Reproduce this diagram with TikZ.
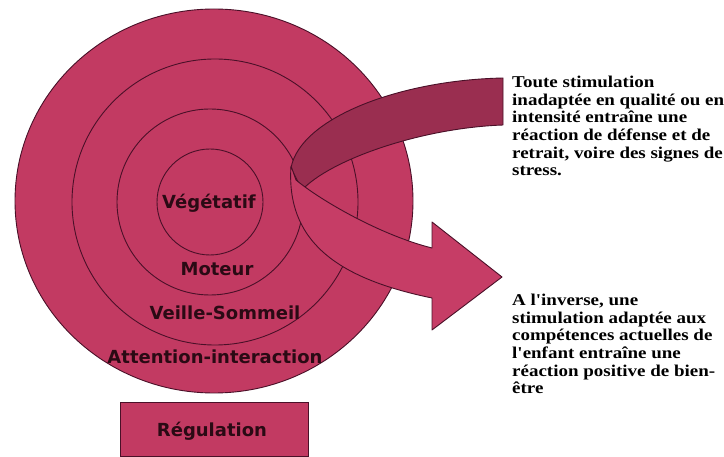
\documentclass[tikz,border=0pt]{standalone}
\usepackage{fontspec}
\setsansfont{DejaVu Sans}
\newfontfamily\rfont{Liberation Serif}[FakeStretch=1.15]
\usetikzlibrary{shapes.geometric}
\definecolor{ringfill}{HTML}{C23A62}
\definecolor{ribdark}{HTML}{9A2E50}
\definecolor{ribfront}{HTML}{C63D66}
\definecolor{edgecol}{HTML}{4A1028}
\definecolor{labcol}{HTML}{2A0A14}
\tikzset{
  ringnode/.style={draw=edgecol, fill=ringfill, line width=0.9pt, inner sep=0pt},
  lab/.style={font=\sffamily\bfseries\fontsize{18}{18}\selectfont, text=labcol, inner sep=0pt},
  ribbon/.style={draw=edgecol, line width=0.9pt, line join=round},
  rtext/.style={font=\rfont\bfseries\fontsize{16.5}{17.6}\selectfont, align=left, anchor=north west, inner sep=0pt, text=black}
}
\begin{document}
\begin{tikzpicture}[x=1pt,y=-1pt]
\useasboundingbox (0,0) rectangle (724,457);
\fill[white] (0,0) rectangle (724,457);
% rings
\node[ringnode, ellipse, minimum width=398pt, minimum height=384pt] (outer) at (214,201) {};
\node[ringnode, circle, minimum size=286pt] (second) at (215,202) {};
\node[ringnode, circle, minimum size=186pt] (third) at (210,202) {};
\node[ringnode, circle, minimum size=106pt] (inner) at (210,202) {};
% ribbon back part
\draw[ribbon, fill=ribdark] (503,78) .. controls (400,80) and (300,118) .. (291,168)
  -- (302,190) .. controls (330,160) and (420,128) .. (503,125) -- cycle;
% ribbon front part with arrow head
\draw[ribbon, fill=ribfront] (291,166) .. controls (286,240) and (335,278) .. (432,298)
  -- (432,330) -- (502,277) -- (432,222) -- (432,248)
  .. controls (380,235) and (320,200) .. (296,180) -- cycle;
% labels
\node[lab] (veg) at (209,203) {Végétatif};
\node[lab] (mot) at (217,269) {Moteur};
\node[lab] (vei) at (225,313) {Veille-Sommeil};
\node[lab] (att) at (215,357) {Attention-interaction};
% regulation box
\node[ringnode, rectangle, minimum width=188pt, minimum height=54pt] (reg) at (214,429) {};
\node[lab] (regt) at (212,431) {Régulation};
% right texts
\node[rtext] (t1) at (512,76) {Toute stimulation\\inadaptée en qualité ou en\\intensité entraîne une\\réaction de défense et de\\retrait, voire des signes de\\stress.};
\node[rtext] (t2) at (512,294) {A l'inverse, une\\stimulation adaptée aux\\compétences actuelles de\\l'enfant entraîne une\\réaction positive de bien-\\être};
\end{tikzpicture}
\end{document}
